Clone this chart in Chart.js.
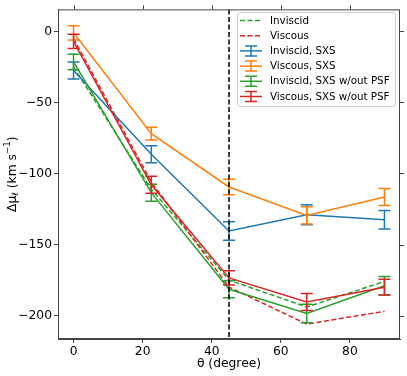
<!DOCTYPE html>
<html>
<head>
<meta charset="utf-8">
<script src="https://cdn.jsdelivr.net/npm/chart.js@4/dist/chart.umd.min.js"></script>
<style>
  html, body { margin: 0; padding: 0; background: #fff; }
  #wrap { width: 407px; height: 376px; }
</style>
</head>
<body>
<div id="wrap"><canvas id="myChart" width="407" height="376"></canvas></div>
<script>
// angles
const theta = [0, 22.5, 45, 67.5, 90];

// model curves (dashed)
const inviscidModel = [-25, -111, -175, -194, -176];
const viscousModel = [-5, -106, -180, -206, -197];

// SXS measurements with errors
const inviscidSXS = [-27.5, -86.5, -140.5, -129, -132.5];
const inviscidSXSErr = [6, 6, 6.5, 7, 6.5];
const viscousSXS = [-1, -72, -109.5, -129.5, -116.5];
const viscousSXSErr = [5, 4.5, 5.5, 6, 6];
const inviscidNoPSF = [-21.5, -113.5, -181.5, -198.5, -179];
const inviscidNoPSFErr = [5.5, 6, 6, 6.5, 6.5];
const viscousNoPSF = [-7, -108, -173.5, -190.5, -180];
const viscousNoPSFErr = [5, 6, 5, 6, 5.5];

const xTicks = [0, 20, 40, 60, 80];
const yTicks = [-200, -150, -100, -50, 0];
const vLine = [45];

const BLUE = '#1f77b4', ORANGE = '#ff7f0e', GREEN = '#2ca02c', RED = '#d62728';
const AXIS = '#444';
const FONT = 'DejaVu Sans';
const DASH = [5, 2.5];
const CAP = 6;

function pts(vals) {
    return theta.map((t, i) => ({ x: t, y: vals[i] }));
}

function fmt(v) {
    return v < 0 ? '\u2212' + Math.abs(v) : String(v);
}

const series = [
    { label: 'Inviscid', vals: inviscidModel, err: null, color: GREEN, dash: DASH },
    { label: 'Viscous', vals: viscousModel, err: null, color: RED, dash: DASH },
    { label: 'Inviscid, SXS', vals: inviscidSXS, err: inviscidSXSErr, color: BLUE, dash: [] },
    { label: 'Viscous, SXS', vals: viscousSXS, err: viscousSXSErr, color: ORANGE, dash: [] },
    { label: 'Inviscid, SXS w/out PSF', vals: inviscidNoPSF, err: inviscidNoPSFErr, color: GREEN, dash: [] },
    { label: 'Viscous, SXS w/out PSF', vals: viscousNoPSF, err: viscousNoPSFErr, color: RED, dash: [] }
];

const datasets = series.map((s, i) => ({
    label: s.label,
    data: pts(s.vals),
    err: s.err,
    borderColor: s.color,
    backgroundColor: s.color,
    borderDash: s.dash,
    borderWidth: 1.5,
    pointRadius: 0,
    tension: 0,
    fill: false,
    order: series.length - i // later series on top, like matplotlib
}));

// error bars, drawn right after each dataset so z-order is kept
const errorBars = {
    id: 'errorBars',
    afterDatasetDraw(chart, args) {
        const ds = chart.data.datasets[args.index];
        if (!ds.err) return;
        const ctx = chart.ctx;
        const xs = chart.scales.x, ys = chart.scales.y;
        ctx.save();
        ctx.strokeStyle = ds.borderColor;
        ctx.lineWidth = 1.5;
        ctx.setLineDash([]);
        ds.data.forEach((p, i) => {
            const px = xs.getPixelForValue(p.x);
            const top = ys.getPixelForValue(p.y + ds.err[i]);
            const bot = ys.getPixelForValue(p.y - ds.err[i]);
            ctx.beginPath();
            ctx.moveTo(px, top); ctx.lineTo(px, bot);
            ctx.moveTo(px - CAP, top); ctx.lineTo(px + CAP, top);
            ctx.moveTo(px - CAP, bot); ctx.lineTo(px + CAP, bot);
            ctx.stroke();
        });
        ctx.restore();
    }
};

// y label with real sub/superscripts
function drawYTitle(chart) {
    const ctx = chart.ctx;
    const a = chart.chartArea;
    const big = '12.3px "' + FONT + '"', small = '8.6px "' + FONT + '"';
    const parts = [
        { t: 'Δμ', f: big, dy: 0 },
        { t: 'ℓ', f: small, dy: 3 },
        { t: ' (km s', f: big, dy: 0 },
        { t: '\u22121', f: small, dy: -5 },
        { t: ')', f: big, dy: 0 }
    ];
    let total = 0;
    parts.forEach(p => { ctx.font = p.f; p.w = ctx.measureText(p.t).width; total += p.w; });
    ctx.save();
    ctx.translate(13, (a.top + a.bottom) / 2);
    ctx.rotate(-Math.PI / 2);
    ctx.fillStyle = '#000';
    ctx.textBaseline = 'middle';
    ctx.textAlign = 'left';
    let x = -total / 2;
    parts.forEach(p => {
        ctx.font = p.f;
        ctx.fillText(p.t, x, p.dy);
        x += p.w;
    });
    ctx.restore();
}

// vertical line, full frame, top/right ticks, legend box
const frame = {
    id: 'frame',
    afterDatasetsDraw(chart) {
        const ctx = chart.ctx;
        const a = chart.chartArea;
        const xs = chart.scales.x, ys = chart.scales.y;
        ctx.save();
        // axvline
        vLine.forEach(v => {
            const px = xs.getPixelForValue(v);
            ctx.strokeStyle = '#000';
            ctx.lineWidth = 1.5;
            ctx.setLineDash(DASH);
            ctx.beginPath();
            ctx.moveTo(px, a.top); ctx.lineTo(px, a.bottom);
            ctx.stroke();
        });
        ctx.setLineDash([]);
        // box
        ctx.strokeStyle = AXIS;
        ctx.lineWidth = 1;
        ctx.strokeRect(a.left + 0.5, a.top + 0.5, a.right - a.left - 1, a.bottom - a.top - 1);
        // top / right ticks
        ctx.beginPath();
        xTicks.forEach(v => {
            const px = Math.round(xs.getPixelForValue(v)) + 0.5;
            ctx.moveTo(px, a.top); ctx.lineTo(px, a.top - 4);
        });
        yTicks.forEach(v => {
            const py = Math.round(ys.getPixelForValue(v)) + 0.5;
            ctx.moveTo(a.right, py); ctx.lineTo(a.right + 4, py);
        });
        ctx.stroke();

        // legend
        const lx = 237, ly = 12, lw = 158, lh = 94, r = 3;
        ctx.fillStyle = 'rgba(255,255,255,0.85)';
        ctx.strokeStyle = '#cccccc';
        ctx.lineWidth = 1;
        ctx.beginPath();
        ctx.roundRect(lx + 0.5, ly + 0.5, lw, lh, r);
        ctx.fill();
        ctx.stroke();
        ctx.font = '10.3px "' + FONT + '"';
        ctx.textBaseline = 'middle';
        ctx.textAlign = 'left';
        chart.data.datasets.forEach((ds, i) => {
            const y = ly + 8.5 + i * 15.2;
            const x0 = lx + 3, x1 = lx + 25, xc = (x0 + x1) / 2;
            ctx.strokeStyle = ds.borderColor;
            ctx.lineWidth = 1.5;
            ctx.setLineDash(ds.borderDash);
            ctx.beginPath();
            ctx.moveTo(x0, y); ctx.lineTo(x1, y);
            ctx.stroke();
            ctx.setLineDash([]);
            if (ds.err) {
                ctx.beginPath();
                ctx.moveTo(xc, y - 5); ctx.lineTo(xc, y + 5);
                ctx.moveTo(xc - CAP, y - 5); ctx.lineTo(xc + CAP, y - 5);
                ctx.moveTo(xc - CAP, y + 5); ctx.lineTo(xc + CAP, y + 5);
                ctx.stroke();
            }
            ctx.fillStyle = '#000';
            ctx.fillText(ds.label, lx + 33, y + 0.5);
        });
        ctx.restore();

        drawYTitle(chart);
    }
};

const tickFont = { family: FONT, size: 12.3 };

new Chart(document.getElementById('myChart'), {
    type: 'line',
    data: { datasets: datasets },
    options: {
        responsive: false,
        animation: false,
        devicePixelRatio: 1,
        layout: { padding: { top: 5, right: 7, left: 0, bottom: 0 } },
        plugins: {
            legend: { display: false },
            tooltip: { enabled: false }
        },
        scales: {
            x: {
                type: 'linear',
                min: -4.5,
                max: 94.5,
                afterFit: s => { s.height = 37; },
                afterBuildTicks: s => { s.ticks = xTicks.map(v => ({ value: v })); },
                grid: { drawOnChartArea: false, drawTicks: true, tickLength: 4, color: AXIS },
                border: { display: true, color: AXIS, width: 1 },
                ticks: { color: '#000', font: tickFont, padding: 1, maxRotation: 0, callback: v => fmt(v) },
                title: { display: true, text: 'θ (degree)', color: '#000', font: tickFont, padding: { top: 0, bottom: 5 } }
            },
            y: {
                type: 'linear',
                min: -216.5,
                max: 15.5,
                afterFit: s => { s.width = 58; },
                afterBuildTicks: s => { s.ticks = yTicks.map(v => ({ value: v })); },
                grid: { drawOnChartArea: false, drawTicks: true, tickLength: 4, color: AXIS },
                border: { display: true, color: AXIS, width: 1 },
                ticks: { color: '#000', font: tickFont, padding: 2, callback: v => fmt(v) },
                title: { display: false }
            }
        }
    },
    plugins: [errorBars, frame]
});
</script>
</body>
</html>
